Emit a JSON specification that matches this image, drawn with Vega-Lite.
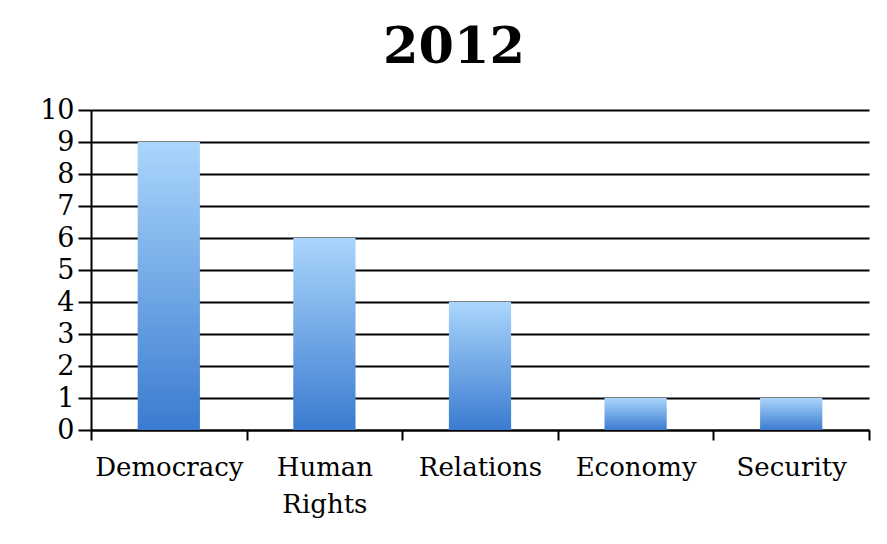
{
  "$schema": "https://vega.github.io/schema/vega-lite/v6.json",
  "width": 778,
  "height": 320,
  "autosize": {"type": "none"},
  "padding": {"left": 91, "top": 110, "right": 18, "bottom": 114},
  "background": "white",
  "title": {
    "text": "2012",
    "font": "DejaVu Serif",
    "fontWeight": "bold",
    "fontSize": 51,
    "color": "black",
    "anchor": "middle",
    "dx": -26,
    "offset": 22
  },
  "data": {
    "values": [
      {"topic": "Democracy", "count": 9},
      {"topic": "Human Rights", "count": 6},
      {"topic": "Relations", "count": 4},
      {"topic": "Economy", "count": 1},
      {"topic": "Security", "count": 1}
    ]
  },
  "mark": {
    "type": "bar",
    "width": {"band": 0.4},
    "color": {
      "gradient": "linear",
      "x1": 0, "y1": 0, "x2": 0, "y2": 1,
      "stops": [
        {"offset": 0, "color": "#abd6fc"},
        {"offset": 1, "color": "#3a7bd0"}
      ]
    }
  },
  "encoding": {
    "x": {
      "field": "topic",
      "type": "nominal",
      "sort": null,
      "scale": {"paddingInner": 0, "paddingOuter": 0},
      "axis": {
        "title": null,
        "labelAngle": 0,
        "labelFont": "DejaVu Serif",
        "labelFontSize": 26,
        "labelColor": "black",
        "labelPadding": 14,
        "labelLineHeight": 37,
        "labelExpr": "datum.label == 'Human Rights' ? ['Human', 'Rights'] : datum.label",
        "tickBand": "extent",
        "tickSize": 10,
        "tickWidth": 2,
        "tickColor": "black",
        "domainColor": "black",
        "domainWidth": 2,
        "grid": false
      }
    },
    "y": {
      "field": "count",
      "type": "quantitative",
      "scale": {"domain": [0, 10], "nice": false},
      "axis": {
        "title": null,
        "values": [0,1,2,3,4,5,6,7,8,9,10],
        "labelFont": "DejaVu Serif",
        "labelFontSize": 27,
        "labelColor": "black",
        "labelPadding": 4,
        "tickSize": 13,
        "tickWidth": 2,
        "tickColor": "black",
        "domainColor": "black",
        "domainWidth": 2,
        "grid": true,
        "gridColor": "black",
        "gridWidth": 2,
        "gridOpacity": 1
      }
    }
  },
  "config": {"view": {"stroke": null}}
}
